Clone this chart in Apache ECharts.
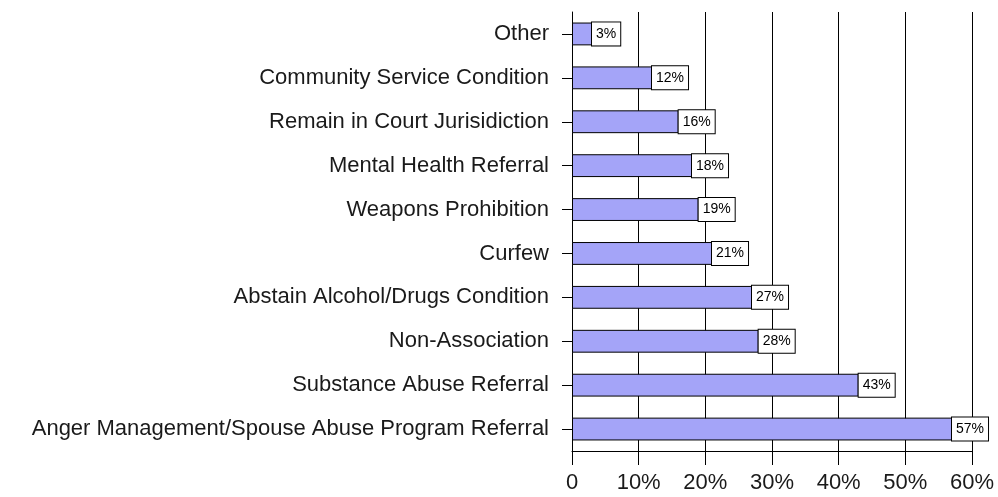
<!DOCTYPE html>
<html>
<head>
<meta charset="utf-8">
<script src="https://cdn.jsdelivr.net/npm/echarts@6/dist/echarts.min.js"></script>
<style>
  html, body { margin: 0; padding: 0; background: #ffffff; }
  #chart { width: 998px; height: 497px; }
</style>
</head>
<body>
<div id="chart"></div>
<script>
// Conditions, listed top to bottom
const categories = [
  'Other',
  'Community Service Condition',
  'Remain in Court Jurisidiction',
  'Mental Health Referral',
  'Weapons Prohibition',
  'Curfew',
  'Abstain Alcohol/Drugs Condition',
  'Non-Association',
  'Substance Abuse Referral',
  'Anger Management/Spouse Abuse Program Referral'
];
// Share of cases with each condition (%)
const percentages = [3, 12, 16, 18, 19, 21, 27, 28, 43, 57];
// Value axis ticks (%)
const axisTicks = [0, 10, 20, 30, 40, 50, 60];

const FONT = 'Liberation Sans, Arial, sans-serif';

const chart = echarts.init(document.getElementById('chart'));
chart.setOption({
  animation: false,
  backgroundColor: '#ffffff',
  grid: { left: 572, right: 26, top: 12, bottom: 46 },
  xAxis: {
    type: 'value',
    min: axisTicks[0],
    max: axisTicks[axisTicks.length - 1],
    interval: axisTicks[1] - axisTicks[0],
    axisLine: { show: true, lineStyle: { color: '#000', width: 1 } },
    axisTick: { show: true, length: 14, lineStyle: { color: '#000' } },
    splitLine: { show: true, lineStyle: { color: '#000', width: 1 } },
    axisLabel: {
      margin: 21,
      fontFamily: FONT,
      fontSize: 22,
      color: '#1a1a1a',
      formatter: v => (v === 0 ? '0' : v + '%')
    }
  },
  yAxis: {
    type: 'category',
    data: categories,
    inverse: true,
    axisLine: { show: true, lineStyle: { color: '#000', width: 1 } },
    axisTick: { show: true, alignWithLabel: true, length: 10, lineStyle: { color: '#000' } },
    splitLine: { show: false },
    axisLabel: {
      margin: 23,
      fontFamily: FONT,
      fontSize: 22,
      color: '#1a1a1a'
    }
  },
  series: [{
    type: 'bar',
    data: percentages,
    barWidth: '52%',
    itemStyle: { color: '#a4a4f8', borderColor: '#000', borderWidth: 1 },
    label: {
      show: true,
      position: 'right',
      distance: 0,
      formatter: p => p.value + '%',
      fontFamily: FONT,
      fontSize: 14,
      color: '#000',
      backgroundColor: '#fff',
      borderColor: '#000',
      borderWidth: 1,
      padding: [5, 4, 4, 4]
    }
  }]
});
</script>
</body>
</html>
